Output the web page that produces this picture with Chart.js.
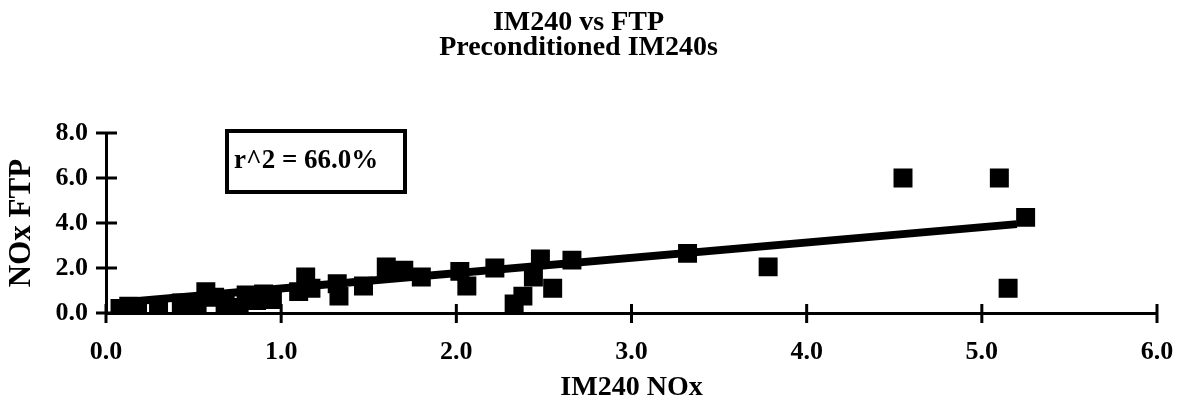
<!DOCTYPE html>
<html>
<head>
<meta charset="utf-8">
<script src="https://cdn.jsdelivr.net/npm/chart.js@4"></script>
<style>
  html, body { margin: 0; padding: 0; background: #fff; }
  #wrap { width: 1185px; height: 417px; }
</style>
</head>
<body>
<div id="wrap"><canvas id="myChart"></canvas></div>
<script>
// IM240 NOx (x) against FTP NOx (y), preconditioned tests
const im240Nox = [0.08, 0.13, 0.18, 0.15, 0.30, 0.43, 0.52, 0.57, 0.62, 0.68,
                  0.76, 0.80, 0.86, 0.90, 0.95, 1.10, 1.14, 1.17, 1.32, 1.33,
                  1.47, 1.60, 1.70, 1.80, 2.02, 2.06, 2.22, 2.33, 2.38, 2.44,
                  2.48, 2.55, 2.66, 3.32, 3.78, 4.55, 5.10, 5.15, 5.25];
const ftpNox   = [0.20, 0.30, 0.25, 0.05, 0.10, 0.45, 0.30, 0.95, 0.70, 0.40,
                  0.25, 0.80, 0.55, 0.85, 0.60, 0.95, 1.60, 1.10, 1.30, 0.75,
                  1.20, 2.05, 1.90, 1.60, 1.85, 1.20, 2.00, 0.40, 0.75, 1.60,
                  2.40, 1.10, 2.35, 2.65, 2.05, 6.00, 6.00, 1.10, 4.25];

// regression line end points
const fitX = [0.10, 5.20];
const fitY = [0.48, 3.95];

const xTicks = [0, 1, 2, 3, 4, 5, 6];
const yTicks = [0, 2, 4, 6, 8];
const rSquared = "r^2 = 66.0%";

const serif = "'Liberation Serif', 'DejaVu Serif', serif";

const points = im240Nox.map((v, i) => ({ x: v, y: ftpNox[i] }));
const fitLine = fitX.map((v, i) => ({ x: v, y: fitY[i] }));

// tick marks crossing both axes + the r^2 box
const axisExtras = {
    id: "axisExtras",
    afterDraw(chart) {
        const ctx = chart.ctx;
        const xs = chart.scales.x, ys = chart.scales.y;
        const area = chart.chartArea;
        ctx.save();
        ctx.strokeStyle = "#000";
        ctx.lineWidth = 3;
        ctx.beginPath();
        yTicks.forEach(t => {
            const py = ys.getPixelForValue(t);
            ctx.moveTo(area.left - 10, py);
            ctx.lineTo(area.left + 11, py);
        });
        xTicks.forEach(t => {
            const px = xs.getPixelForValue(t);
            ctx.moveTo(px, area.bottom - 9);
            ctx.lineTo(px, area.bottom + 10);
        });
        ctx.moveTo(area.left, area.bottom);
        ctx.lineTo(area.left, area.bottom + 8);
        ctx.stroke();

        // r^2 label box
        const bx = area.left + 121, by = area.top - 2, bw = 178, bh = 61;
        ctx.lineWidth = 4;
        ctx.strokeRect(bx, by, bw, bh);
        ctx.fillStyle = "#000";
        ctx.font = "bold 27px " + serif;
        ctx.textBaseline = "middle";
        ctx.textAlign = "left";
        ctx.fillText(rSquared, bx + 7, by + bh / 2);
        ctx.restore();
    }
};

new Chart("myChart", {
    data: {
        datasets: [
            {
                type: "scatter",
                data: points,
                backgroundColor: "#000",
                borderColor: "#000",
                borderWidth: 2,
                pointStyle: "rect",
                pointRadius: 12,
                pointHoverRadius: 12
            },
            {
                type: "line",
                data: fitLine,
                borderColor: "#000",
                borderWidth: 8,
                borderCapStyle: "butt",
                pointRadius: 0,
                fill: false
            }
        ]
    },
    options: {
        responsive: true,
        maintainAspectRatio: false,
        animation: false,
        layout: { padding: { top: 0, left: 0, right: 28, bottom: 0 } },
        plugins: {
            legend: { display: false },
            tooltip: { enabled: false },
            title: {
                display: true,
                text: ["IM240 vs FTP", "Preconditioned IM240s"],
                color: "#000",
                font: { family: serif, size: 28, weight: "bold", lineHeight: "25px" },
                padding: { top: 10, bottom: 73 }
            }
        },
        scales: {
            x: {
                type: "linear",
                min: 0,
                max: 6,
                afterFit: s => { s.height = 104; s.paddingRight = 0; s.paddingLeft = 0; },
                afterBuildTicks: s => { s.ticks = xTicks.map(v => ({ value: v })); },
                grid: { display: false, drawTicks: false },
                border: { display: true, color: "#000", width: 3 },
                ticks: {
                    color: "#000",
                    padding: 24,
                    font: { family: serif, size: 26, weight: "bold" },
                    callback: v => v.toFixed(1)
                },
                title: {
                    display: true,
                    text: "IM240 NOx",
                    color: "#000",
                    font: { family: serif, size: 28, weight: "bold" },
                    padding: { top: 0, bottom: 12 }
                }
            },
            y: {
                type: "linear",
                min: 0,
                max: 8,
                afterFit: s => { s.width = 106; },
                afterBuildTicks: s => { s.ticks = yTicks.map(v => ({ value: v })); },
                grid: { display: false, drawTicks: false },
                border: { display: true, color: "#000", width: 3 },
                ticks: {
                    color: "#000",
                    padding: 18,
                    font: { family: serif, size: 26, weight: "bold" },
                    callback: v => v.toFixed(1)
                },
                title: {
                    display: true,
                    text: "NOx FTP",
                    color: "#000",
                    font: { family: serif, size: 31, weight: "bold" },
                    padding: { top: 3, bottom: 0 }
                }
            }
        }
    },
    plugins: [axisExtras]
});
</script>
</body>
</html>
